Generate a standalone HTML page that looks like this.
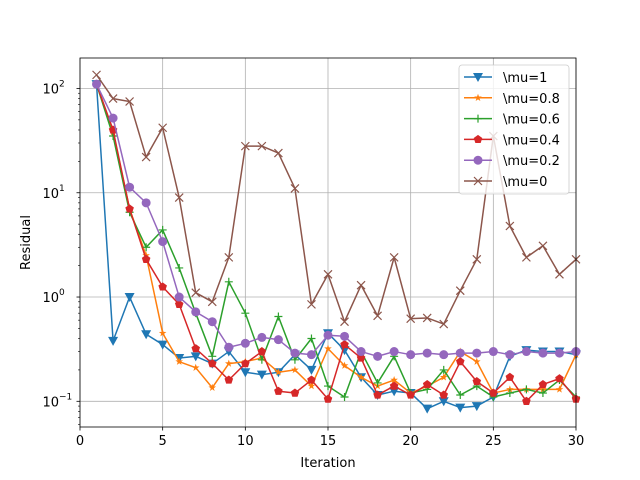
<!DOCTYPE html>
<html><head><meta charset="utf-8"><style>
body{margin:0;background:#fff;}
svg{display:block;font-family:"DejaVu Sans","Liberation Sans",sans-serif;}
</style></head><body>
<svg id="chart" width="640" height="480"></svg>
<script>
const iterations = Array.from({length:30},(_,i)=>i+1);
const mu1 = [110,0.38,1.0,0.44,0.35,0.26,0.27,0.23,0.30,0.19,0.18,0.19,0.28,0.20,0.45,0.31,0.17,0.115,0.125,0.12,0.085,0.10,0.087,0.09,0.11,0.27,0.31,0.30,0.30,0.28];
const mu08 = [110,38,7,2.5,0.45,0.24,0.21,0.135,0.23,0.24,0.26,0.19,0.20,0.14,0.32,0.22,0.17,0.14,0.16,0.12,0.14,0.17,0.30,0.24,0.12,0.13,0.13,0.13,0.13,0.28];
const mu06 = [110,35,6.5,3.0,4.4,1.9,0.7,0.27,1.4,0.7,0.25,0.65,0.25,0.4,0.14,0.11,0.3,0.15,0.27,0.12,0.13,0.2,0.115,0.14,0.11,0.12,0.13,0.12,0.16,0.11];
const mu04 = [110,40,7,2.3,1.25,0.85,0.32,0.23,0.16,0.23,0.3,0.125,0.12,0.16,0.105,0.35,0.26,0.115,0.14,0.115,0.145,0.115,0.24,0.155,0.12,0.17,0.1,0.145,0.165,0.105];
const mu02 = [110,52,11.3,8,3.4,1.0,0.72,0.58,0.33,0.36,0.41,0.39,0.29,0.28,0.43,0.42,0.3,0.27,0.3,0.28,0.29,0.28,0.29,0.29,0.3,0.28,0.3,0.29,0.29,0.3];
const mu0 = [135,80,75,22,42,9,1.1,0.9,2.4,28,28,24,11,0.85,1.65,0.58,1.3,0.66,2.4,0.62,0.63,0.55,1.15,2.3,35,4.8,2.4,3.1,1.65,2.3];
const seriesLabels = ["\\mu=1","\\mu=0.8","\\mu=0.6","\\mu=0.4","\\mu=0.2","\\mu=0"];
const xTicks = [0,5,10,15,20,25,30];
const yTickExps = [-1,0,1,2];

const NS="http://www.w3.org/2000/svg";
const svg=document.getElementById('chart');
const L=80,R=576,T=58,B=427;
const xMin=0,xMax=30,yMinL=Math.log10(0.0567),yMaxL=Math.log10(196);
const xs=v=>L+(v-xMin)/(xMax-xMin)*(R-L);
const ys=v=>B-(Math.log10(v)-yMinL)/(yMaxL-yMinL)*(B-T);
function mk(tag,attrs,parent){const e=document.createElementNS(NS,tag);for(const k in attrs)e.setAttribute(k,attrs[k]);(parent||svg).appendChild(e);return e;}

const grid=mk('g',{});


xTicks.forEach(t=>{const l=mk('line',{x1:xs(t),x2:xs(t),y1:T,y2:B,stroke:'#b0b0b0','stroke-width':0.8},grid);});
yTickExps.forEach(e=>{const l=mk('line',{x1:L,x2:R,y1:ys(Math.pow(10,e)),y2:ys(Math.pow(10,e)),stroke:'#b0b0b0','stroke-width':0.8},grid);});

const colors=['#1f77b4','#ff7f0e','#2ca02c','#d62728','#9467bd','#8c564b'];
const allData=[mu1,mu08,mu06,mu04,mu02,mu0];
const markerTypes=['tri','star','plus','pent','circle','x'];
function marker(type,x,y,c,g){
  if(type==='tri')return mk('path',{d:`M${x-5},${y-4}L${x+5},${y-4}L${x},${y+5}Z`,fill:c},g);
  if(type==='star'){let p='';for(let i=0;i<10;i++){const r=i%2?1.6:4;const a=-Math.PI/2+i*Math.PI/5;p+=(i?'L':'M')+(x+r*Math.cos(a)).toFixed(2)+','+(y+r*Math.sin(a)).toFixed(2);}return mk('path',{d:p+'Z',fill:c},g);}
  if(type==='plus')return mk('path',{d:`M${x-4},${y}H${x+4}M${x},${y-4}V${y+4}`,stroke:c,'stroke-width':1.2},g);
  if(type==='pent'){let p='';for(let i=0;i<5;i++){const a=-Math.PI/2+i*2*Math.PI/5;p+=(i?'L':'M')+(x+4.5*Math.cos(a)).toFixed(2)+','+(y+4.5*Math.sin(a)).toFixed(2);}return mk('path',{d:p+'Z',fill:c},g);}
  if(type==='circle')return mk('circle',{cx:x,cy:y,r:4.5,fill:c},g);
  return mk('path',{d:`M${x-4},${y-4}L${x+4},${y+4}M${x-4},${y+4}L${x+4},${y-4}`,stroke:c,'stroke-width':1.2},g);
}
allData.forEach((data,si)=>{
  const g=mk('g',{});
  
  
  const d=data.map((v,i)=>(i?'L':'M')+xs(iterations[i]).toFixed(2)+','+ys(v).toFixed(2)).join('');
  const p=mk('path',{d:d,fill:'none',stroke:colors[si],'stroke-width':1.5,'stroke-linejoin':'round'},g);
  
  
  data.forEach((v,i)=>{const m=marker(markerTypes[si],xs(iterations[i]),ys(v),colors[si],g);});
});

const fr=mk('rect',{x:L,y:T,width:R-L,height:B-T,fill:'none',stroke:'#000','stroke-width':0.8});



xTicks.forEach(t=>{
  mk('line',{x1:xs(t),x2:xs(t),y1:B,y2:B+3.5,stroke:'#000','stroke-width':0.8});
  const tx=mk('text',{x:xs(t),y:B+18,'text-anchor':'middle','font-size':13});
  tx.textContent=t;
  
  
});
yTickExps.forEach(e=>{
  const y=ys(Math.pow(10,e));
  mk('line',{x1:L-3.5,x2:L,y1:y,y2:y,stroke:'#000','stroke-width':0.8});
  const tx=mk('text',{x:L-21,y:y+5,'text-anchor':'end','font-size':13});
  tx.textContent='10';
  
  
  const sp=mk('text',{x:L-21,y:y-2,'text-anchor':'start','font-size':9});
  sp.textContent=String(e).replace('-','\u2212');
  
  
});
for(let e=-2;e<=2;e++)for(let k=2;k<10;k++){const v=k*Math.pow(10,e);const y=ys(v);if(y<T||y>B)continue;mk('line',{x1:L-2,x2:L,y1:y,y2:y,stroke:'#000','stroke-width':0.6});}

const xt=mk('text',{x:(L+R)/2,y:467,'text-anchor':'middle','font-size':13});
xt.textContent='Iteration';


const yt=mk('text',{x:30,y:(T+B)/2,'text-anchor':'middle','font-size':13,transform:`rotate(-90 30 ${(T+B)/2})`});
yt.textContent='Residual';



const lg=mk('g',{});


mk('rect',{x:459,y:65,width:110,height:129,rx:3,fill:'#fff','fill-opacity':0.8,stroke:'#ccc','stroke-width':0.8},lg);
seriesLabels.forEach((lab,i)=>{
  const y=77+i*20.8;
  const e=mk('g',{},lg);
  
  
  mk('line',{x1:464,x2:492,y1:y,y2:y,stroke:colors[i],'stroke-width':1.5},e);
  marker(markerTypes[i],478,y,colors[i],e);
  const t=mk('text',{x:503,y:y+5,'font-size':13},e);
  t.textContent=lab;
});
</script>
</body></html>
